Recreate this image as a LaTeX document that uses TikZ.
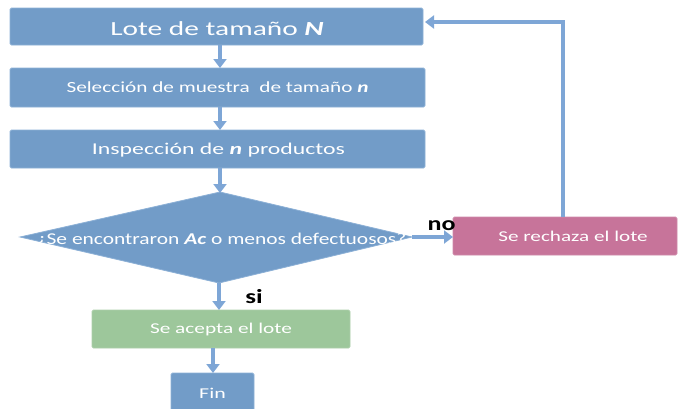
\documentclass[tikz,border=0pt]{standalone}
\usepackage{fontspec}
\setmainfont{Carlito}
\usetikzlibrary{arrows.meta}
\definecolor{boxblue}{RGB}{114,156,200}
\definecolor{boxedge}{RGB}{140,176,214}
\definecolor{arrblue}{RGB}{126,166,214}
\definecolor{rejpink}{RGB}{199,116,154}
\definecolor{accgreen}{RGB}{157,199,155}
\tikzset{
  procbox/.style={fill=boxblue, draw=boxedge, line width=0.8pt, rounded corners=1.5pt},
  boxtext/.style={text=white, inner sep=0pt, anchor=base},
  flow/.style={draw=arrblue, line width=4pt, -{Triangle[length=9pt,width=13pt]}},
  lbl/.style={text=black, font=\bfseries\fontsize{20}{20}\selectfont, inner sep=0pt, anchor=base}
}
\begin{document}
\begin{tikzpicture}[x=1pt,y=-1pt]
\useasboundingbox (0,0) rectangle (678,408);
% boxes
\draw[procbox] (10,8) rectangle (423,45);
\draw[procbox] (10,68) rectangle (425,107);
\draw[procbox] (10,130) rectangle (425,168);
\draw[procbox, rounded corners=0pt] (20,237) -- (220,192) -- (412,237) -- (219,283) -- cycle;
\draw[procbox, fill=rejpink, draw=rejpink!85!white] (453,217) rectangle (677,255);
\draw[procbox, fill=accgreen, draw=accgreen!85!white] (92,310) rectangle (350,348);
\draw[procbox] (171,373) rectangle (254,412);
% text nodes
\node[boxtext] (n1) at (217,35) {\scalebox{1.47}[1]{\fontsize{20}{20}\selectfont Lote de tama\~no \textbf{\textit{N}}}};
\node[boxtext] (n2) at (217.5,92.7) {\scalebox{1.37}[1]{\fontsize{15.5}{15.5}\selectfont Selecci\'on de muestra\ \ de tama\~no \textbf{\textit{n}}}};
\node[boxtext] (n3) at (218.5,154.5) {\scalebox{1.44}[1]{\fontsize{16.5}{16.5}\selectfont Inspecci\'on de \textbf{\textit{n}} productos}};
\node[boxtext] (n4) at (221.5,244) {\scalebox{1.30}[1]{\fontsize{16.5}{16.5}\selectfont ¿Se encontraron \textbf{\textit{Ac}} o menos defectuosos?}};
\node[boxtext] (n5) at (573,241) {\scalebox{1.41}[1]{\fontsize{15}{15}\selectfont Se rechaza el lote}};
\node[boxtext] (n6) at (221,333) {\scalebox{1.42}[1]{\fontsize{15}{15}\selectfont Se acepta el lote}};
\node[boxtext] (n7) at (212.5,398) {\scalebox{1.46}[1]{\fontsize{15}{15}\selectfont Fin}};
% labels
\node[lbl] (no) at (441.5,230) {\scalebox{1.3}[1]{no}};
\node[lbl] (si) at (254,303) {\scalebox{1.35}[1]{si}};
% connectors
\coordinate (a1s) at (220,45);  \coordinate (a1e) at (220,68);
\coordinate (a2s) at (220,107); \coordinate (a2e) at (220,130);
\coordinate (a3s) at (220,168); \coordinate (a3e) at (220,193);
\coordinate (a4s) at (219,283); \coordinate (a4e) at (219,310);
\coordinate (a5s) at (213,348); \coordinate (a5e) at (213,373);
\coordinate (a6s) at (412,237); \coordinate (a6e) at (453,237);
\coordinate (fbs) at (563,217); \coordinate (fbc) at (563,22); \coordinate (fbe) at (425,22);
\draw[flow] (a1s) -- (a1e);
\draw[flow] (a2s) -- (a2e);
\draw[flow] (a3s) -- (a3e);
\draw[flow] (a4s) -- (a4e);
\draw[flow] (a5s) -- (a5e);
\draw[flow] (a6s) -- (a6e);
\draw[flow] (fbs) -- (fbc) -- (fbe);
\end{tikzpicture}
\end{document}
